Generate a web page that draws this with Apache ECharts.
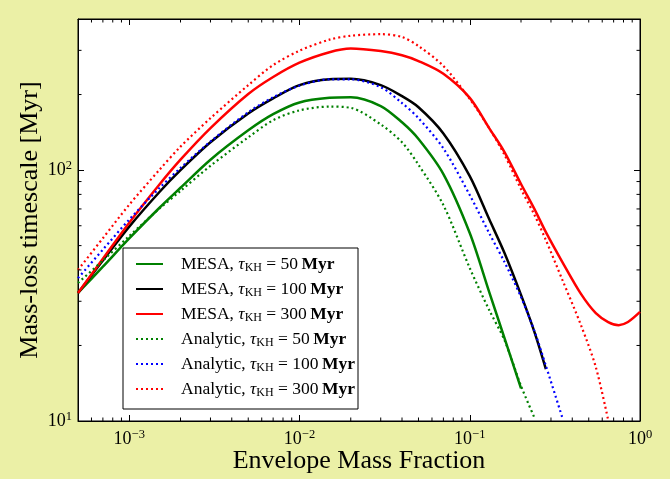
<!DOCTYPE html>
<html><head><meta charset="utf-8">
<script src="https://cdn.jsdelivr.net/npm/echarts@6/dist/echarts.min.js"></script>
<style>html,body{margin:0;padding:0;background:#ebf0a6;} #c{width:670px;height:479px;}</style>
</head><body><div id="c"></div>
<script>
// ---- data ----
const envFrac = [5e-4, 7e-4, 1e-3, 1.5e-3, 2e-3, 3e-3, 5e-3, 7e-3, 0.01, 0.015, 0.02, 0.03, 0.04, 0.05, 0.07, 0.1, 0.13, 0.16, 0.2, 0.24, 0.28, 0.35, 0.45, 0.55, 0.65, 0.75, 0.85, 1.0];
const mesa50  = [32.4, 41.2, 53.4, 70.6, 85.0, 110, 144, 167, 186, 194, 195, 180, 155, 133, 96.4, 56.1, 32.7, 21.4, 13.5];
const mesa100 = [32.4, 43.6, 59.5, 81.6, 99.9, 129, 168, 193, 218, 230, 231, 218, 197, 178, 140, 94.6, 63.8, 46.7, 31.8, 22.6, 16.1];
const mesa300 = [32.4, 44.3, 61.7, 87.4, 110, 147, 201, 235, 268, 295, 305, 298, 287, 272, 242, 194, 147, 118, 88.0, 69.9, 56.6, 43.0, 32.1, 26.9, 24.8, 24.1, 24.8, 27.2];
const analytic50  = [35.5, 43.6, 54.6, 70.1, 82.6, 104, 135, 158, 173, 179, 177, 152, 129, 105, 72.5, 40.7, 27.7, 21.0, 13.8, 10.3];
const analytic100 = [37.1, 48.2, 63.5, 84.6, 102, 130, 170, 195, 217, 230, 230, 214, 185, 161, 122, 79.5, 56.1, 43.0, 31.2, 22.8, 16.6, 10.3];
const analytic300 = [40.0, 53.5, 72.8, 100, 124, 161, 218, 262, 299, 331, 343, 348, 339, 312, 260, 192, 147, 115, 84.0, 66.2, 52.6, 36.5, 24.1, 16.4, 10.1];
const tauKH = ['50', '100', '300', '50', '100', '300'];
const modelNames = ['MESA', 'MESA', 'MESA', 'Analytic', 'Analytic', 'Analytic'];
const xMinorTicks = [6e-4, 7e-4, 8e-4, 9e-4, 2e-3, 3e-3, 4e-3, 5e-3, 6e-3, 7e-3, 8e-3, 9e-3, 0.02, 0.03, 0.04, 0.05, 0.06, 0.07, 0.08, 0.09, 0.2, 0.3, 0.4, 0.5, 0.6, 0.7, 0.8, 0.9];
const yMinorTicks = [20, 30, 40, 50, 60, 70, 80, 90, 200, 300];
const X_MIN = 5e-4, X_MAX = 1, Y_MIN = 10, Y_MAX = 400;

// ---- build ----
const FONT = 'Liberation Serif';
function pairs(ys) { return ys.map((y, i) => [envFrac[i], y]); }
function supLabel(v) {
  const l = Math.log10(v), e = Math.round(l);
  if (Math.abs(l - e) > 1e-6) return '';
  return '{b|10}{s|' + (e < 0 ? '\u2212' + (-e) : e) + '}';
}
const supRich = {
  b: { fontFamily: FONT, fontSize: 18, color: '#000', lineHeight: 22 },
  s: { fontFamily: FONT, fontSize: 12.5, color: '#000', lineHeight: 12, verticalAlign: 'top' }
};
const seriesDefs = [
  { data: mesa50, color: '#008000', dotted: false },
  { data: mesa100, color: '#000000', dotted: false },
  { data: mesa300, color: '#ff0000', dotted: false },
  { data: analytic50, color: '#008000', dotted: true },
  { data: analytic100, color: '#0000ff', dotted: true },
  { data: analytic300, color: '#ff0000', dotted: true }
];
const names = seriesDefs.map((d, i) => modelNames[i] + ' ' + tauKH[i]);
const legendText = {};
names.forEach((n, i) => {
  legendText[n] = '{f|' + modelNames[i] + ',}{n| }{i|\u03c4}{k|KH}{n| = ' + tauKH[i] + '\u2009}{b|Myr}';
});
const lineSeries = seriesDefs.map((d, i) => ({
  type: 'line', name: names[i], data: pairs(d.data), symbol: 'none', showSymbol: false,
  smooth: 0.3, z: 3 + i,
  lineStyle: { color: d.color, width: d.dotted ? 2.2 : 2.5, type: d.dotted ? [2, 3] : 'solid' },
  itemStyle: { color: d.color }
}));
const tickLen = 3.5;
const minorX = {
  type: 'custom', silent: true, clip: false, z: 20,
  data: xMinorTicks.map(v => [v, Y_MIN]),
  renderItem: (p, api) => {
    const v = api.value(0);
    const b = api.coord([v, Y_MIN]), t = api.coord([v, Y_MAX]);
    return { type: 'group', children: [
      { type: 'line', shape: { x1: b[0], y1: b[1], x2: b[0], y2: b[1] - tickLen }, style: { stroke: '#000', lineWidth: 1 } },
      { type: 'line', shape: { x1: t[0], y1: t[1], x2: t[0], y2: t[1] + tickLen }, style: { stroke: '#000', lineWidth: 1 } }
    ]};
  }
};
const minorY = {
  type: 'custom', silent: true, clip: false, z: 20,
  data: yMinorTicks.map(v => [X_MIN, v]),
  renderItem: (p, api) => {
    const v = api.value(1);
    const l = api.coord([X_MIN, v]), r = api.coord([X_MAX, v]);
    return { type: 'group', children: [
      { type: 'line', shape: { x1: l[0], y1: l[1], x2: l[0] + tickLen, y2: l[1] }, style: { stroke: '#000', lineWidth: 1 } },
      { type: 'line', shape: { x1: r[0], y1: r[1], x2: r[0] - tickLen, y2: r[1] }, style: { stroke: '#000', lineWidth: 1 } }
    ]};
  }
};
const axisCommon = {
  axisLine: { show: true, lineStyle: { color: '#000', width: 1 } },
  axisTick: { show: true, inside: true, length: 6, lineStyle: { color: '#000', width: 1 } },
  splitLine: { show: false }, minorTick: { show: false }, minorSplitLine: { show: false }
};
const option = {
  animation: false,
  backgroundColor: '#ebf0a6',
  grid: { left: 78, right: 30, top: 19, bottom: 58, show: true, backgroundColor: '#fff', borderColor: '#000', borderWidth: 1, outerBoundsMode: 'none' },
  xAxis: [
    Object.assign({ type: 'log', logBase: 10, min: X_MIN, max: X_MAX, position: 'bottom',
      name: 'Envelope Mass Fraction', nameLocation: 'middle', nameGap: 27, nameMoveOverlap: false,
      nameTextStyle: { fontFamily: FONT, fontSize: 26, color: '#000' },
      axisLabel: { formatter: supLabel, rich: supRich, margin: 7, color: '#000' } }, axisCommon),
    Object.assign({ type: 'log', logBase: 10, min: X_MIN, max: X_MAX, position: 'top', axisLabel: { show: false } }, axisCommon)
  ],
  yAxis: [
    Object.assign({ type: 'log', logBase: 10, min: Y_MIN, max: Y_MAX, position: 'left',
      name: 'Mass-loss timescale [Myr]', nameLocation: 'middle', nameGap: 35, nameMoveOverlap: false,
      nameTextStyle: { fontFamily: FONT, fontSize: 26, color: '#000' },
      axisLabel: { formatter: supLabel, rich: supRich, margin: 6, color: '#000' } }, axisCommon),
    Object.assign({ type: 'log', logBase: 10, min: Y_MIN, max: Y_MAX, position: 'right', axisLabel: { show: false } }, axisCommon)
  ],
  legend: {
    orient: 'vertical', left: 123, top: 248, padding: [7, 3, 10, 12], itemGap: 6,
    itemWidth: 27, itemHeight: 12, backgroundColor: '#fff', borderColor: '#000', borderWidth: 1, borderRadius: 0,
    selectedMode: false, data: names,
    itemStyle: { opacity: 0, borderWidth: 0 },
    formatter: n => legendText[n],
    textStyle: { fontFamily: FONT, fontSize: 17.5, color: '#000', rich: {
      f: { fontFamily: FONT, fontSize: 17.5, lineHeight: 20, padding: [0, 0, 0, 13] },
      n: { fontFamily: FONT, fontSize: 17.5, lineHeight: 20 },
      i: { fontFamily: FONT, fontSize: 17.5, lineHeight: 20, fontStyle: 'italic' },
      k: { fontFamily: FONT, fontSize: 12, lineHeight: 12, verticalAlign: 'bottom' },
      b: { fontFamily: FONT, fontSize: 17.5, lineHeight: 20, fontWeight: 'bold' }
    } }
  },
  series: lineSeries.concat([minorX, minorY])
};
const chart = echarts.init(document.getElementById('c'), null, { renderer: 'canvas' });
chart.setOption(option);
</script></body></html>
